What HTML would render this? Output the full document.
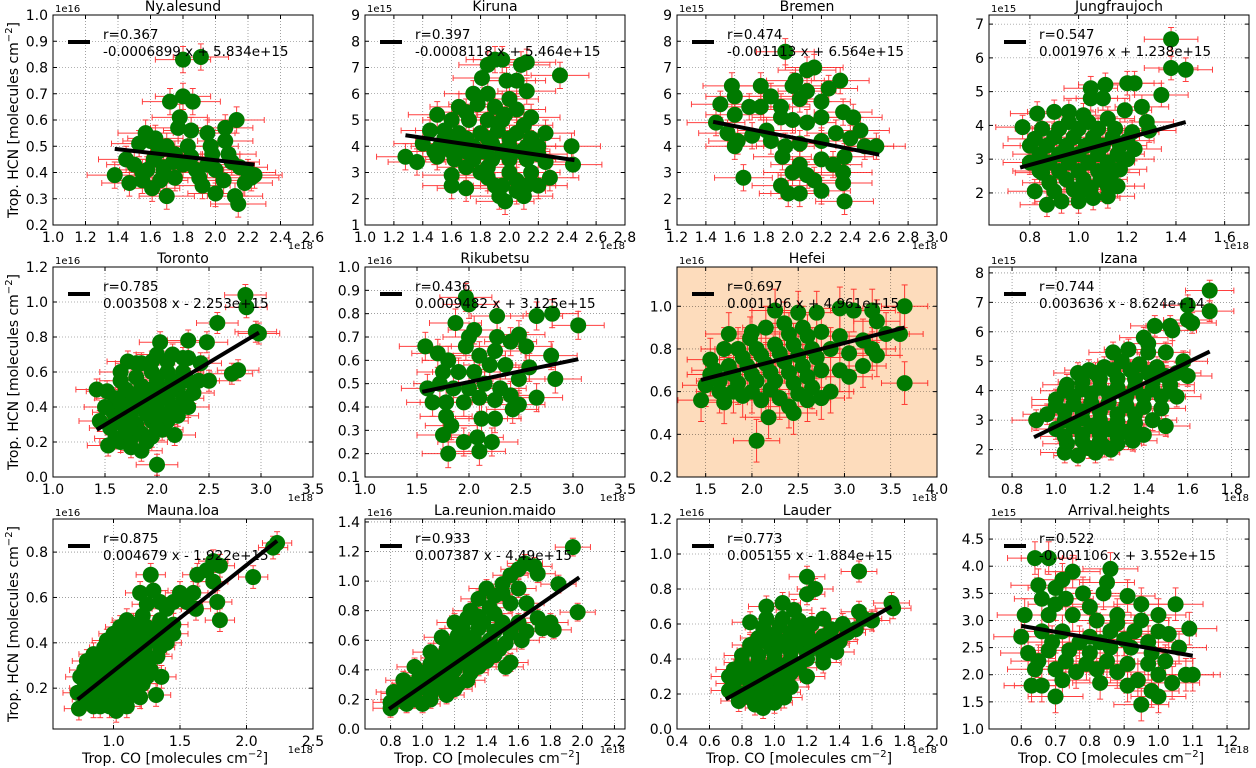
<!DOCTYPE html>
<html><head><meta charset="utf-8"><style>
body{margin:0;background:#fff;}
svg{display:block;font-family:"DejaVu Sans","Liberation Sans",sans-serif;}
</style></head><body>
<svg id="fig" width="1256" height="768" viewBox="0 0 1256 768" xmlns="http://www.w3.org/2000/svg"></svg>
<script>
const titles=["Ny.alesund","Kiruna","Bremen","Jungfraujoch","Toronto","Rikubetsu","Hefei","Izana","Mauna.loa","La.reunion.maido","Lauder","Arrival.heights"];
const rLabels=["r=0.367","r=0.397","r=0.474","r=0.547","r=0.785","r=0.436","r=0.697","r=0.744","r=0.875","r=0.933","r=0.773","r=0.522"];
const fitLabels=["-0.0006899 x + 5.834e+15","-0.0008118 x + 5.464e+15","-0.001113 x + 6.564e+15","0.001976 x + 1.238e+15","0.003508 x - 2.253e+15","0.0009482 x + 3.125e+15","0.001106 x + 4.961e+15","0.003636 x - 8.624e+14","0.004679 x - 1.922e+15","0.007387 x - 4.49e+15","0.005155 x - 1.884e+15","-0.001106 x + 3.552e+15"];
const yOffsets=["1e16","1e15","1e15","1e15","1e16","1e16","1e16","1e15","1e16","1e16","1e16","1e15"];
const xLims=[[1.0,2.6],[1.0,2.8],[1.2,3.0],[0.632,1.70],[1.0,3.5],[1.0,3.5],[1.19,4.0],[0.695,1.879],[0.545,2.5],[0.64,2.266],[0.4,2.0],[0.506,1.264]];
const yLims=[[0.2,1.0],[1,9],[1,9],[1.05,7.27],[0,1.2],[0.1,1.0],[0.2,1.184],[1.07,8.2],[0.02,0.946],[0,1.42],[0,1.2],[1.0,4.87]];
const xTicks=[[1.0,1.2,1.4,1.6,1.8,2.0,2.2,2.4,2.6],[1.0,1.2,1.4,1.6,1.8,2.0,2.2,2.4,2.6,2.8],[1.2,1.4,1.6,1.8,2.0,2.2,2.4,2.6,2.8,3.0],[0.8,1.0,1.2,1.4,1.6],[1.0,1.5,2.0,2.5,3.0,3.5],[1.0,1.5,2.0,2.5,3.0,3.5],[1.5,2.0,2.5,3.0,3.5,4.0],[0.8,1.0,1.2,1.4,1.6,1.8],[1.0,1.5,2.0,2.5],[0.8,1.0,1.2,1.4,1.6,1.8,2.0,2.2],[0.4,0.6,0.8,1.0,1.2,1.4,1.6,1.8,2.0],[0.6,0.7,0.8,0.9,1.0,1.1,1.2]];
const yTicks=[[0.2,0.3,0.4,0.5,0.6,0.7,0.8,0.9,1.0],[1,2,3,4,5,6,7,8,9],[1,2,3,4,5,6,7,8,9],[2,3,4,5,6,7],[0.0,0.2,0.4,0.6,0.8,1.0,1.2],[0.1,0.2,0.3,0.4,0.5,0.6,0.7,0.8,0.9,1.0],[0.2,0.4,0.6,0.8,1.0],[2,3,4,5,6,7,8],[0.2,0.4,0.6,0.8],[0.0,0.2,0.4,0.6,0.8,1.0,1.2,1.4],[0.0,0.2,0.4,0.6,0.8,1.0,1.2],[1.0,1.5,2.0,2.5,3.0,3.5,4.0,4.5]];
const xDec=[1,1,1,1,1,1,1,1,1,1,1,1];
const yDec=[1,0,0,0,1,1,1,0,1,1,1,1];
const fitX1=[1.38,1.28,1.45,0.76,1.42,1.55,1.45,0.9,0.73,0.79,0.7,0.6];
const fitY1=[0.49,4.42,4.93,2.75,0.27,0.465,0.655,2.42,0.15,0.135,0.17,2.9];
const fitX2=[2.24,2.45,2.6,1.44,2.98,3.05,3.65,1.7,2.23,1.98,1.72,1.1];
const fitY2=[0.43,3.47,3.68,4.1,0.825,0.605,0.9,5.33,0.85,1.025,0.7,2.35];
const xErr=[0.17,0.2,0.2,0.11,0.2,0.25,0.25,0.11,0.11,0.11,0.11,0.08];
const yErr=[0.05,0.5,0.5,0.35,0.06,0.06,0.1,0.35,0.05,0.06,0.06,0.3];
const ptsX=[
[1.8,1.91,1.72,1.8,1.86,1.78,1.77,1.85,2.13,1.57,1.6,1.63,1.53,1.7,1.83,1.95,1.97,2.06,2.06,1.45,1.5,1.55,1.62,1.68,1.74,1.8,1.88,1.95,2.0,2.1,2.15,2.2,2.24,1.38,1.47,1.55,1.61,1.66,1.7,1.92,2.0,2.12,2.14,2.05,1.9,2.18,2.22,1.75],
[1.9,1.95,2.12,2.08,1.85,2.35,1.81,1.98,2.05,2.12,1.75,1.85,2.0,1.65,1.78,1.9,2.05,2.15,1.5,1.6,1.72,1.85,1.97,2.1,1.45,1.55,1.65,1.8,1.92,2.05,2.25,1.4,1.52,1.62,1.75,1.88,2.0,2.12,2.2,2.43,1.28,1.36,1.5,1.62,1.75,1.88,2.0,2.12,2.25,2.44,1.6,1.7,1.85,1.95,1.93,1.97,2.05,2.1,2.2,2.28,1.8,2.0,2.15],
[1.95,2.15,2.1,2.02,2.33,2.0,2.25,1.58,1.78,2.1,1.6,1.85,1.5,1.7,1.78,1.92,2.2,2.05,1.6,1.92,2.0,2.1,2.2,2.35,2.42,1.47,1.55,1.62,1.72,1.82,1.85,1.95,2.05,2.2,2.3,2.4,2.47,2.5,2.58,1.6,1.93,2.05,2.2,2.28,2.36,1.66,1.92,1.97,2.05,2.2,2.15,2.35,2.35,2.36,2.0,2.1],
[1.38,1.38,1.44,1.2,1.23,1.11,1.05,1.05,1.1,1.34,1.19,1.26,0.83,0.9,0.96,1.02,1.28,1.29,0.77,0.85,0.92,1.0,1.08,1.15,1.22,0.8,0.87,0.95,1.03,1.1,1.17,1.23,0.8,0.88,0.96,1.04,1.12,1.2,1.17,0.82,0.88,0.95,1.02,1.09,1.16,0.87,0.93,1.0,1.06,1.12,0.85,1.0],
[2.85,2.86,2.58,2.98,2.95,2.03,2.3,2.48,1.72,1.85,2.0,2.15,2.3,2.42,2.72,2.78,1.42,1.52,1.65,1.8,1.95,2.1,2.25,2.4,2.5,1.6,1.75,1.9,2.05,2.2,2.35,1.45,1.58,1.7,1.85,2.0,2.15,2.3,1.55,1.68,1.8,1.95,2.1,1.53,1.65,1.75,1.85,1.95,2.05,2.17,2.0,1.6],
[1.97,2.0,2.27,2.65,2.8,3.05,1.87,2.05,2.0,2.27,2.48,2.4,2.55,1.97,1.58,1.7,1.8,2.1,2.25,2.35,2.79,1.75,1.9,2.05,2.2,2.58,1.6,1.72,1.85,2.0,2.15,2.3,2.48,2.83,1.65,1.78,1.95,2.1,2.25,2.4,2.65,2.48,1.78,1.83,2.12,2.25,1.75,1.95,2.08,2.22,1.8,2.1,2.42],
[3.65,2.95,3.1,3.3,2.25,2.5,2.7,3.35,3.45,3.6,1.75,1.98,2.15,2.35,2.55,2.75,2.95,3.2,3.3,3.35,1.55,1.7,1.85,2.05,2.25,2.45,2.65,2.85,3.05,1.6,1.75,1.95,2.15,2.35,2.55,2.75,2.95,3.2,3.05,1.5,1.65,1.85,2.05,2.25,2.45,2.65,1.45,1.7,1.9,2.1,2.3,2.5,2.75,2.85,3.65,2.18,2.45,2.4,2.05],
[1.7,1.7,1.6,1.6,1.62,1.45,1.52,1.53,1.4,1.42,1.26,1.33,1.42,1.5,1.58,1.15,1.22,1.3,1.38,1.46,1.55,1.6,1.05,1.12,1.2,1.28,1.36,1.44,1.52,1.0,1.08,1.16,1.24,1.32,1.4,1.48,1.55,0.91,0.96,1.04,1.12,1.2,1.28,1.36,1.44,1.5,1.0,1.08,1.16,1.24,1.32,1.4,1.05,1.12,1.2,1.28,1.35,1.04,1.1,1.18,1.25],
[2.23,2.2,1.75,1.8,1.7,1.63,2.05,1.75,1.28,1.78,1.8,1.62,1.5,1.55,1.3,1.2,1.4,1.1,1.22,1.35,1.45,1.0,1.1,1.2,1.3,1.4,0.93,1.03,1.13,1.23,1.33,0.8,0.88,0.98,1.08,1.18,1.28,1.36,0.75,0.82,0.92,1.02,1.12,1.22,0.73,0.8,0.9,1.0,1.1,1.2,0.74,0.9,1.02,1.32],
[1.94,1.64,1.6,1.7,1.72,1.55,1.85,1.4,1.45,1.5,1.35,1.55,1.65,1.3,1.42,1.2,1.28,1.38,1.5,1.6,1.72,1.97,1.8,1.75,1.82,1.12,1.22,1.32,1.42,1.52,1.62,1.05,1.15,1.25,1.35,1.45,1.55,1.52,0.95,1.05,1.15,1.25,1.35,0.88,0.98,1.08,1.18,1.28,0.82,0.9,1.0,1.1,1.2,0.8,0.85,0.95,1.05,0.8],
[1.52,1.2,1.25,1.2,1.72,1.73,1.52,1.55,1.5,0.95,1.05,1.12,0.85,0.95,1.05,1.15,1.3,1.42,0.9,1.0,1.1,1.2,1.3,1.4,0.88,0.98,1.08,1.18,1.28,1.38,0.8,0.9,1.0,1.1,1.2,1.3,0.72,0.8,0.9,1.0,1.1,1.2,0.72,0.8,0.9,1.0,1.1,0.78,0.88,0.93,1.0,1.06],
[0.64,0.68,0.75,0.72,0.86,0.85,0.65,0.7,0.78,0.66,0.73,0.84,0.91,0.95,1.05,0.61,0.68,0.75,0.82,0.88,0.95,1.0,0.6,0.66,0.72,0.8,0.86,0.93,1.0,1.03,1.09,0.62,0.68,0.74,0.8,0.86,0.92,0.98,1.06,0.64,0.7,0.76,0.82,0.88,0.94,1.0,1.08,1.1,0.63,0.66,0.72,0.7,0.83,0.91,0.95,0.98,1.0]
];
const ptsY=[
[0.83,0.84,0.67,0.69,0.67,0.61,0.57,0.56,0.6,0.55,0.52,0.53,0.51,0.5,0.5,0.55,0.5,0.57,0.52,0.45,0.43,0.4,0.45,0.42,0.44,0.43,0.41,0.43,0.41,0.44,0.42,0.4,0.39,0.39,0.36,0.37,0.34,0.37,0.31,0.35,0.32,0.31,0.28,0.37,0.38,0.36,0.38,0.38],
[7.3,7.3,7.2,7.1,7.1,6.7,6.6,6.5,6.5,6.1,6.0,6.0,5.8,5.5,5.6,5.5,5.4,5.1,5.2,5.0,5.0,5.0,5.2,4.8,4.6,4.6,4.5,4.5,4.6,4.5,4.5,4.1,4.0,4.1,4.0,4.1,4.0,4.0,4.0,4.0,3.6,3.4,3.6,3.5,3.5,3.5,3.5,3.5,3.4,3.3,2.5,2.4,2.8,2.5,2.1,1.9,2.3,2.1,2.5,2.8,3.0,3.0,3.0],
[7.6,7.0,6.9,6.5,6.5,6.3,6.2,6.3,6.3,6.1,5.9,5.9,5.6,5.5,5.5,5.5,5.7,5.8,5.2,5.1,5.0,4.9,5.1,5.3,5.1,4.9,4.5,4.2,4.4,4.6,4.2,4.0,4.1,4.2,4.5,4.3,4.6,4.0,4.0,4.0,3.6,3.3,3.5,3.3,3.6,2.8,2.5,2.2,2.2,2.3,2.7,2.6,3.0,1.9,3.0,2.9],
[6.55,5.7,5.65,5.25,5.25,5.2,5.1,4.8,4.8,4.9,4.45,4.55,4.35,4.4,4.4,4.3,4.1,3.85,3.95,3.9,3.9,3.9,3.9,3.9,3.8,3.4,3.4,3.4,3.4,3.4,3.4,3.3,2.9,2.9,2.9,2.9,2.9,3.0,2.7,2.05,2.3,2.4,2.4,2.4,2.2,1.65,1.75,1.75,1.85,1.9,2.6,2.0],
[1.04,0.97,0.88,0.82,0.83,0.77,0.78,0.77,0.66,0.65,0.7,0.7,0.68,0.65,0.59,0.61,0.5,0.49,0.55,0.57,0.6,0.6,0.6,0.55,0.55,0.45,0.47,0.5,0.5,0.5,0.48,0.32,0.37,0.4,0.4,0.4,0.4,0.4,0.28,0.3,0.3,0.32,0.32,0.18,0.2,0.22,0.15,0.23,0.27,0.24,0.07,0.22],
[0.87,0.84,0.79,0.79,0.8,0.75,0.76,0.73,0.7,0.7,0.71,0.68,0.66,0.66,0.66,0.63,0.6,0.62,0.64,0.58,0.62,0.55,0.55,0.55,0.58,0.57,0.48,0.5,0.48,0.48,0.5,0.48,0.52,0.52,0.42,0.42,0.42,0.44,0.43,0.45,0.44,0.41,0.36,0.32,0.35,0.35,0.28,0.25,0.27,0.25,0.2,0.21,0.39],
[1.0,0.99,0.98,0.98,0.98,0.97,0.97,0.93,0.87,0.87,0.87,0.85,0.9,0.92,0.9,0.88,0.86,0.84,0.8,0.77,0.75,0.8,0.8,0.8,0.82,0.82,0.8,0.8,0.78,0.7,0.72,0.72,0.73,0.74,0.72,0.7,0.7,0.72,0.67,0.63,0.65,0.64,0.65,0.65,0.64,0.62,0.56,0.55,0.58,0.56,0.57,0.59,0.57,0.6,0.64,0.48,0.5,0.53,0.37],
[7.4,6.7,6.9,6.4,6.3,6.2,6.2,6.05,5.8,5.6,5.3,5.4,5.3,5.3,5.0,4.7,4.8,5.0,4.9,4.8,4.6,4.5,4.2,4.3,4.4,4.4,4.4,4.3,4.2,3.7,3.8,3.9,3.9,3.8,3.8,3.8,3.8,3.0,3.2,3.3,3.3,3.3,3.2,3.2,3.0,2.8,2.7,2.8,2.8,2.7,2.6,2.5,2.2,2.3,2.3,2.2,2.3,1.9,1.8,1.9,2.0],
[0.84,0.82,0.76,0.74,0.72,0.7,0.69,0.67,0.7,0.58,0.5,0.55,0.62,0.58,0.63,0.62,0.55,0.5,0.52,0.5,0.48,0.44,0.43,0.44,0.42,0.4,0.38,0.37,0.36,0.37,0.34,0.32,0.3,0.3,0.3,0.3,0.28,0.25,0.25,0.24,0.23,0.23,0.22,0.22,0.18,0.15,0.16,0.15,0.15,0.16,0.11,0.12,0.1,0.17],
[1.23,1.12,1.08,1.1,1.05,1.04,0.98,0.95,0.9,0.92,0.88,0.85,0.85,0.8,0.82,0.72,0.75,0.72,0.72,0.72,0.75,0.79,0.72,0.68,0.67,0.62,0.63,0.62,0.6,0.58,0.6,0.52,0.54,0.55,0.52,0.5,0.45,0.42,0.42,0.44,0.45,0.45,0.42,0.33,0.35,0.36,0.35,0.33,0.25,0.27,0.28,0.28,0.27,0.18,0.2,0.2,0.2,0.14],
[0.9,0.87,0.8,0.77,0.72,0.69,0.67,0.63,0.57,0.7,0.72,0.68,0.61,0.63,0.63,0.62,0.63,0.6,0.52,0.54,0.55,0.55,0.53,0.5,0.45,0.46,0.47,0.47,0.46,0.44,0.38,0.38,0.4,0.4,0.4,0.38,0.3,0.3,0.3,0.32,0.32,0.3,0.22,0.2,0.22,0.24,0.24,0.16,0.14,0.12,0.15,0.18],
[4.15,4.15,3.9,3.75,3.95,3.7,3.65,3.6,3.5,3.4,3.4,3.5,3.45,3.3,3.3,3.1,3.1,3.1,3.0,3.1,3.0,3.1,2.7,2.8,2.8,2.7,2.8,2.8,2.8,2.75,2.85,2.4,2.45,2.45,2.4,2.5,2.5,2.4,2.5,2.1,2.1,2.05,2.1,2.05,1.9,2.0,2.0,2.0,1.8,1.8,1.9,1.6,1.85,1.8,1.45,1.7,1.6]
];
const extraX=[
[1.65,1.75,1.85,1.98,2.08,1.58,1.68],
[1.55,1.7,1.85,2.0,2.15,1.48,1.6,1.7,1.82,1.95,2.08,2.2,1.7,1.85,1.9,2.05,2.12,1.7,1.95,1.6],
[],
[0.82,0.9,0.98,1.06,1.14,0.84,0.92,1.0,1.08,1.16,0.84,0.92,1.0,1.08,1.14,0.9,0.98,1.05,1.12,1.2,0.96,1.04,1.12],
[1.65,1.8,1.95,2.1,2.25,1.7,1.85,2.0,2.15,2.3,1.5,1.65,1.8,1.95,2.1,2.25,1.6,1.75,1.9,2.05,2.2,1.7,1.85,2.0,1.75,1.9],
[],
[1.65,1.8,2.0,2.2,2.4,2.6,1.9,2.1,2.3,2.5,2.7,2.0,2.4,2.6,1.8,2.0,2.2,2.6,1.55],
[1.1,1.18,1.26,1.34,1.42,1.5,1.04,1.12,1.2,1.28,1.36,1.44,1.52,1.0,1.08,1.16,1.24,1.32,1.4,1.48,1.04,1.12,1.2,1.28,1.36,1.04,1.12,1.2,1.28,1.36,1.15,1.22],
[1.05,1.15,1.25,1.35,1.25,1.35,1.45,0.95,1.05,1.15,1.25,1.35,0.85,0.95,1.05,1.15,1.25,0.78,0.86,0.95,1.05,1.15,1.25,0.78,0.86,0.95,1.05,1.15,0.85,0.97,1.1,1.6,1.45],
[1.25,1.35,1.45,1.55,1.65,1.18,1.28,1.38,1.48,1.1,1.2,1.3,1.4,1.0,1.1,1.2,1.3,0.92,1.02,1.12,1.22,0.85,0.95,1.05,1.15,0.9,1.0,1.45,1.35,1.6,1.5],
[0.93,1.03,1.13,1.23,1.35,0.85,0.95,1.05,1.15,1.25,1.35,0.8,0.9,1.0,1.1,1.2,1.3,0.75,0.85,0.95,1.05,1.15,0.75,0.85,0.95,1.05,0.85,0.95,1.05,1.45,1.6],
[0.69,0.77,0.83,0.9,0.97,0.65,0.73,0.79,0.85,0.91,1.02,0.8,0.7,0.88,0.97,1.04]
];
const extraY=[
[0.48,0.47,0.46,0.47,0.47,0.41,0.4],
[4.3,4.3,4.3,4.3,4.3,3.8,3.8,3.8,3.8,3.8,3.8,3.7,3.2,3.2,2.5,2.7,2.5,5.3,5.0,2.9],
[],
[3.6,3.65,3.65,3.65,3.65,3.15,3.15,3.15,3.15,3.15,2.65,2.65,2.65,2.65,2.6,2.05,2.1,2.15,2.2,3.55,4.1,4.1,4.2],
[0.6,0.65,0.66,0.66,0.68,0.5,0.52,0.55,0.55,0.55,0.4,0.42,0.45,0.45,0.45,0.45,0.33,0.35,0.36,0.36,0.35,0.26,0.25,0.28,0.17,0.2],
[],
[0.6,0.68,0.68,0.69,0.69,0.67,0.76,0.77,0.78,0.77,0.76,0.88,0.87,0.86,0.6,0.6,0.61,0.56,0.68],
[4.6,4.6,4.7,4.7,4.6,4.5,4.0,4.05,4.1,4.1,4.1,4.05,4.0,3.5,3.55,3.6,3.6,3.5,3.45,3.4,3.0,3.05,3.0,2.95,2.9,2.45,2.5,2.5,2.45,2.6,2.05,2.1],
[0.47,0.48,0.47,0.45,0.57,0.58,0.58,0.41,0.4,0.4,0.4,0.38,0.35,0.34,0.33,0.33,0.32,0.28,0.27,0.26,0.26,0.26,0.25,0.2,0.19,0.19,0.19,0.19,0.12,0.12,0.12,0.62,0.44],
[0.68,0.68,0.66,0.65,0.66,0.58,0.58,0.56,0.54,0.48,0.5,0.48,0.46,0.38,0.4,0.4,0.38,0.3,0.32,0.31,0.3,0.24,0.24,0.24,0.23,0.17,0.17,0.78,0.76,0.95,0.98],
[0.58,0.59,0.59,0.6,0.57,0.48,0.5,0.5,0.51,0.5,0.48,0.42,0.42,0.43,0.44,0.43,0.42,0.34,0.34,0.35,0.36,0.35,0.26,0.26,0.27,0.28,0.18,0.18,0.21,0.55,0.62],
[2.6,2.6,2.6,2.65,2.6,2.25,2.25,2.2,2.25,2.2,2.25,3.25,3.3,2.95,2.2,1.85]
];
const NS="http://www.w3.org/2000/svg";
const svg=document.getElementById('fig');
function mk(tag,attrs,parent){const e=document.createElementNS(NS,tag);for(const k in attrs)e.setAttribute(k,attrs[k]);(parent||svg).appendChild(e);return e;}
const colL=[53,365,677,989],rowT=[15,267,519],W=260,H=210;
for(let i=0;i<12;i++){
  const L=colL[i%4],T=rowT[Math.floor(i/4)];
  const g=mk('g',{});
  
  
  const xs=v=>L+(v-xLims[i][0])/(xLims[i][1]-xLims[i][0])*W;
  const ys=v=>T+H-(v-yLims[i][0])/(yLims[i][1]-yLims[i][0])*H;
  const bg=mk('rect',{x:L,y:T,width:W,height:H,fill:i===6?'#fddcbc':'#fff'},g);
  
  
  const clipId='c'+i;
  const cp=mk('clipPath',{id:clipId},g);mk('rect',{x:L,y:T,width:W,height:H},cp);
  xTicks[i].forEach(t=>{const x=xs(t);
    if(x>L+0.5&&x<L+W-0.5)mk('line',{x1:x,x2:x,y1:T,y2:T+H,stroke:'#000','stroke-width':0.6,'stroke-dasharray':'1,2',opacity:0.6},g);
    mk('line',{x1:x,x2:x,y1:T+H,y2:T+H-4,stroke:'#000','stroke-width':1},g);
    mk('line',{x1:x,x2:x,y1:T,y2:T+4,stroke:'#000','stroke-width':1},g);
    const tx=mk('text',{x:x,y:T+H+17,'font-size':14,'text-anchor':'middle',fill:'#000'},g);
    tx.textContent=t.toFixed(xDec[i]);
    
    
  });
  yTicks[i].forEach(t=>{const y=ys(t);
    if(y>T+0.5&&y<T+H-0.5)mk('line',{x1:L,x2:L+W,y1:y,y2:y,stroke:'#000','stroke-width':0.6,'stroke-dasharray':'1,2',opacity:0.6},g);
    mk('line',{x1:L,x2:L+4,y1:y,y2:y,stroke:'#000','stroke-width':1},g);
    mk('line',{x1:L+W,x2:L+W-4,y1:y,y2:y,stroke:'#000','stroke-width':1},g);
    const ty=mk('text',{x:L-5,y:y+5,'font-size':14,'text-anchor':'end',fill:'#000'},g);
    ty.textContent=t.toFixed(yDec[i]);
    
    
  });
  const cg=mk('g',{'clip-path':'url(#'+clipId+')'},g);
  const allX=ptsX[i].concat(extraX[i]),allY=ptsY[i].concat(extraY[i]);
  const eg=mk('g',{stroke:'#ff0000','stroke-width':1,opacity:0.75},cg);
  
  
  for(let k=0;k<allX.length;k++){
    const px=allX[k],py=allY[k];
    const x1=xs(px-xErr[i]),x2=xs(px+xErr[i]),y0=ys(py);
    const y1=ys(py-yErr[i]),y2=ys(py+yErr[i]),x0=xs(px);
    mk('line',{x1:x1,x2:x2,y1:y0,y2:y0},eg);
    mk('line',{x1:x1,x2:x1,y1:y0-3,y2:y0+3},eg);
    mk('line',{x1:x2,x2:x2,y1:y0-3,y2:y0+3},eg);
    mk('line',{x1:x0,x2:x0,y1:y1,y2:y2},eg);
    mk('line',{x1:x0-3,x2:x0+3,y1:y1,y2:y1},eg);
    mk('line',{x1:x0-3,x2:x0+3,y1:y2,y2:y2},eg);
  }
  for(let k=0;k<allX.length;k++){
    const c=mk('circle',{cx:xs(allX[k]),cy:ys(allY[k]),r:8,fill:'#007a00'},cg);
    
    
  }
  const fl=mk('line',{x1:xs(fitX1[i]),y1:ys(fitY1[i]),x2:xs(fitX2[i]),y2:ys(fitY2[i]),stroke:'#000','stroke-width':4},cg);
  
  
  mk('rect',{x:L,y:T,width:W,height:H,fill:'none',stroke:'#000','stroke-width':1},g);
  const lg=mk('g',{},g);
  
  
  mk('line',{x1:L+15,x2:L+37,y1:T+27,y2:T+27,stroke:'#000','stroke-width':4},lg);
  const t1=mk('text',{x:L+50,y:T+24,'font-size':13.5,fill:'#000'},lg);t1.textContent=rLabels[i];
  const t2=mk('text',{x:L+50,y:T+41,'font-size':13.5,fill:'#000'},lg);t2.textContent=fitLabels[i];
  const tt=mk('text',{x:L+W/2,y:T-4,'font-size':14,'text-anchor':'middle',fill:'#000'},g);
  tt.textContent=titles[i];
  
  
  const oy=mk('text',{x:L+2,y:T-3,'font-size':10,fill:'#000'},g);
  oy.textContent=yOffsets[i];
  
  
  const ox=mk('text',{x:L+W,y:T+H+24,'font-size':10,'text-anchor':'end',fill:'#000'},g);
  ox.textContent='1e18';
  
  
  if(i%4===0){
    const yl=mk('text',{x:0,y:0,'font-size':14,'text-anchor':'middle',fill:'#000',transform:'translate(18,'+(T+H/2)+') rotate(-90)'},g);
    yl.innerHTML='Trop. HCN [molecules  cm<tspan dy="-6" font-size="10">−2</tspan><tspan dy="6">]</tspan>';
    
    
  }
  if(i>=8){
    const xl=mk('text',{x:L+W/2-8,y:T+H+34,'font-size':14,'text-anchor':'middle',fill:'#000'},g);
    xl.innerHTML='Trop. CO [molecules  cm<tspan dy="-6" font-size="10">−2</tspan><tspan dy="6">]</tspan>';
    
    
  }
}
</script>
</body></html>
